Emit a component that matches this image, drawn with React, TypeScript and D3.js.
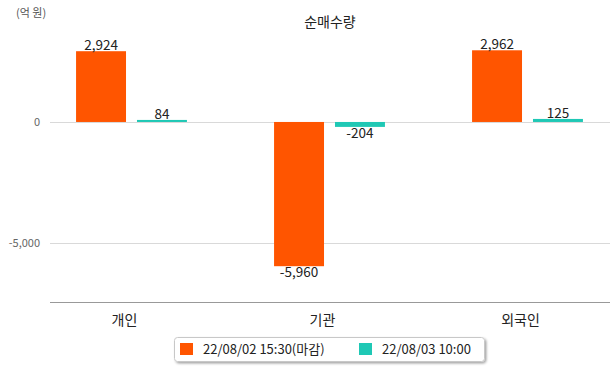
import { useMemo } from "react";
import * as d3 from "d3";

// chart values
const categories = ["개인", "기관", "외국인"];
const seriesNames = ["22/08/02 15:30(마감)", "22/08/03 10:00"];
const seriesColors = ["#ff5500", "#1fc8b5"];
const closeValues = [2924, -5960, 2962];
const morningValues = [84, -204, 125];
const yTicks = [0, -5000];

const width = 615, height = 368;
const font = "'Noto Sans CJK KR', 'Noto Sans', sans-serif";

export default function App() {
  const series = [closeValues, morningValues];

  const { x0, x1, y } = useMemo(() => {
    const x0 = d3.scaleBand().domain(categories).range([32.5, 626.5])
      .paddingInner(0.44).paddingOuter(0.22);
    const x1 = d3.scaleBand().domain(seriesNames).range([0, x0.bandwidth()])
      .paddingInner(0.18).paddingOuter(0);
    // 121px per 5,000
    const y = d3.scaleLinear().domain([-7460, 3800]).range([302.5, 302.5 - 11260 * 0.0242]);
    return { x0, x1, y };
  }, []);

  // plain hyphen for negatives, like the source
  const fmt = (v: number) => d3.format(",")(v).replace("\u2212", "-");

  return (
    <svg width={width} height={height} style={{ display: "block", position: "absolute", left: 0, top: 0 }}
      fontFamily={font}>
      <defs>
        <filter id="shadow" x="-5%" y="-20%" width="110%" height="160%">
          <feDropShadow dx="1.5" dy="1.5" stdDeviation="1" floodColor="#000" floodOpacity="0.35" />
        </filter>
      </defs>

      {/* unit & title */}
      <text x={16} y={17} fontSize={11} fill="#555">(억 원)</text>
      <text x={330} y={27} fontSize={14} fill="#222" textAnchor="middle">순매수량</text>

      {/* grid */}
      {yTicks.map(t => (
        <g key={t}>
          <line x1={50} x2={610} y1={Math.round(y(t)) + 0.5} y2={Math.round(y(t)) + 0.5} stroke="#d9d9d9" />
          <text x={40} y={y(t)} dy="0.35em" fontSize={11} fill="#666" textAnchor="end">{fmt(t)}</text>
        </g>
      ))}
      <line x1={50} x2={610} y1={302.5} y2={302.5} stroke="#999" />

      {/* bars */}
      {categories.map((c, i) => (
        <g key={c} transform={`translate(${x0(c)},0)`}>
          {series.map((vals, s) => {
            const v = vals[i];
            const bx = x1(seriesNames[s])!;
            const top = y(Math.max(0, v)), bot = y(Math.min(0, v));
            return (
              <g key={s}>
                <rect x={bx} y={top} width={x1.bandwidth()} height={Math.max(2, bot - top)} fill={seriesColors[s]} />
                <text x={bx + x1.bandwidth() / 2} y={v >= 0 ? top - 1 : bot + 11}
                  textAnchor="middle" fontSize={13.5} fill="#222">{fmt(v)}</text>
              </g>
            );
          })}
          <text x={x0.bandwidth() / 2 - 7} y={320} dy="0.35em" textAnchor="middle" fontSize={14} fill="#222">{c}</text>
        </g>
      ))}

      {/* legend */}
      <rect x={174.5} y={337.5} width={310} height={24} rx={3} fill="#fff" stroke="#c8c8c8" filter="url(#shadow)" />
      {seriesNames.map((n, s) => {
        const lx = s === 0 ? 180 : 359;
        return (
          <g key={n}>
            <rect x={lx} y={343} width={13} height={12} fill={seriesColors[s]} />
            <text x={lx + 23} y={349} dy="0.35em" fontSize={13} fill="#222">{n}</text>
          </g>
        );
      })}
    </svg>
  );
}
